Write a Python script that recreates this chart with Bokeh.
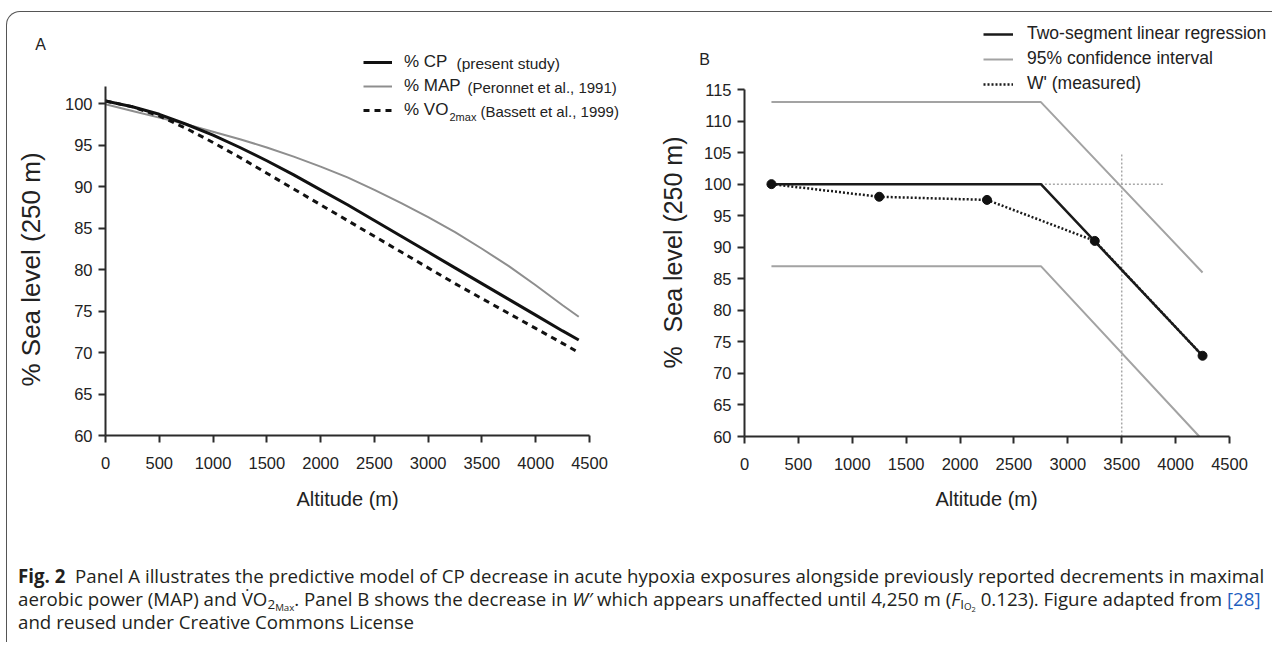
import math
from bokeh.plotting import figure
from bokeh.models import Range1d, Label, Div, Legend, LegendItem, FixedTicker
from bokeh.layouts import column, row
from bokeh.embed import file_html
from bokeh.resources import INLINE

# ---------------- data ----------------
# Panel A
altitude_a = [0, 250, 500, 750, 1000, 1250, 1500, 1750, 2000, 2250, 2500,
              2750, 3000, 3250, 3500, 3750, 4000, 4250, 4400]
cp_pct = [100.3, 99.6, 98.7, 97.5, 96.2, 94.7, 93.1, 91.4, 89.6, 87.8, 85.9,
          84.0, 82.1, 80.2, 78.3, 76.4, 74.5, 72.6, 71.5]
map_pct = [99.9, 99.1, 98.3, 97.5, 96.6, 95.7, 94.7, 93.6, 92.4, 91.1, 89.6,
           88.0, 86.3, 84.5, 82.5, 80.4, 78.1, 75.7, 74.3]
vo2_pct = [100.3, 99.6, 98.5, 97.0, 95.3, 93.5, 91.6, 89.7, 87.8, 85.9, 84.0,
           82.1, 80.2, 78.3, 76.5, 74.7, 72.9, 71.1, 70.0]

# Panel B
altitude_b = [250, 1250, 2250, 3250, 4250]
w_measured = [100.0, 98.0, 97.5, 91.0, 72.8]
reg_x = [250, 2750, 4250]
reg_y = [100.0, 100.0, 72.8]
ci_up_x = [250, 2750, 4250]
ci_up_y = [113.0, 113.0, 86.0]
ci_lo_x = [250, 2750, 4220]
ci_lo_y = [87.0, 87.0, 60.0]
ref_v_x = [3500, 3500]
ref_v_y = [60.0, 105.0]
ref_h_x = [2750, 3900]
ref_h_y = [100.0, 100.0]

x_ticks = [0, 500, 1000, 1500, 2000, 2500, 3000, 3500, 4000, 4500]
ya_ticks = [60, 65, 70, 75, 80, 85, 90, 95, 100]
yb_ticks = [60, 65, 70, 75, 80, 85, 90, 95, 100, 105, 110, 115]

FONT = "Liberation Sans"
AX = "#2b2b2b"
TXT = "#222222"
GREY_A = "#8e8e8e"
GREY_B = "#a3a3a3"
GREY_DOT = "#a8a8a8"

# ---------------- layout geometry (page pixels) ----------------
ORG_X, ORG_Y = 15, 20          # top-left of the figures (inside the box border)
H = 545
WA, WB = 626, 639
# panel A : x 0 -> 113, 4500 -> 597 ; y 100 -> 111, 60 -> 443
A_X0, A_X4500, A_Y100, A_Y60 = 113, 597, 111, 443
# panel B : x 0 -> 752, 4500 -> 1237 ; y 115 -> 97, 60 -> 444
B_X0, B_X4500, B_Y115, B_Y60 = 752, 1237, 97, 444


def ranges(left, width, x0px, x1px, x1val, ytop_px, ybot_px, ytop_val, ybot_val):
    kx = (x1px - x0px) / x1val
    ky = (ybot_px - ytop_px) / (ytop_val - ybot_val)
    xs = (left - x0px) / kx
    xe = (left + width - x0px) / kx
    yt = ybot_val + (ybot_px - ORG_Y) / ky
    yb = ybot_val - (ORG_Y + H - ybot_px) / ky
    return Range1d(xs, xe), Range1d(yb, yt)


def style_axes(p, ybounds):
    for ax in (p.xaxis[0], p.yaxis[0]):
        ax.axis_line_color = AX
        ax.axis_line_width = 2
        ax.major_tick_line_color = AX
        ax.major_tick_line_width = 2
        ax.major_tick_out = 7
        ax.major_tick_in = 0
        ax.minor_tick_line_color = None
        ax.major_label_text_font = FONT
        ax.major_label_text_font_size = "16.5px"
        ax.major_label_text_color = TXT
    p.xaxis[0].ticker = FixedTicker(ticks=x_ticks)
    p.xaxis[0].bounds = (0, 4500)
    p.xaxis[0].fixed_location = 60
    p.xaxis[0].major_label_standoff = 14
    p.yaxis[0].bounds = ybounds
    p.yaxis[0].fixed_location = 0
    p.yaxis[0].major_label_standoff = 6
    p.xgrid.visible = False
    p.ygrid.visible = False
    p.outline_line_color = None
    p.background_fill_color = None
    p.border_fill_color = None


def screen_label(p, left, page_x, page_y, text, size, **kw):
    kw.setdefault("text_baseline", "middle")
    p.add_layout(Label(x=page_x - left, y=ORG_Y + H - page_y,
                       x_units="screen", y_units="screen",
                       text=text, text_font=FONT, text_font_size=size,
                       text_color=TXT, **kw))


# ---------------- panel A ----------------
xrA, yrA = ranges(ORG_X, WA, A_X0, A_X4500, 4500, A_Y100, A_Y60, 100, 60)
pA = figure(width=WA, height=H, output_backend="svg", toolbar_location=None,
            x_range=xrA, y_range=yrA, min_border=0)
pA.yaxis[0].ticker = FixedTicker(ticks=ya_ticks)
style_axes(pA, (60, 102))

r_map = pA.line(altitude_a, map_pct, line_color=GREY_A, line_width=2)
r_vo2 = pA.line(altitude_a, vo2_pct, line_color="#111111", line_width=3,
                line_dash="6 5")
r_cp = pA.line(altitude_a, cp_pct, line_color="#111111", line_width=3)

# legend rows at page y 70, 94, 118 ; samples from page x 371
legA = Legend(items=[LegendItem(label="% CP", renderers=[r_cp]),
                     LegendItem(label="% MAP", renderers=[r_map]),
                     LegendItem(label="% VO", renderers=[r_vo2])],
              location=(371 - ORG_X, ORG_Y + H - 128), padding=0, margin=0,
              spacing=4, glyph_width=29, glyph_height=20, label_height=20,
              label_standoff=12, label_text_font=FONT,
              label_text_font_size="17px", label_text_color=TXT,
              border_line_alpha=0, background_fill_alpha=0)
pA.add_layout(legA, "center")

L = ORG_X
screen_label(pA, L, 464, 71, "(present study)", "15.5px")
screen_label(pA, L, 475, 95, "(Peronnet et al., 1991)", "15px")
screen_label(pA, L, 457, 124, "2max", "11px")
screen_label(pA, L, 488, 119, "(Bassett et al., 1999)", "15px")
screen_label(pA, L, 48, 52, "A", "16px", text_align="center")
screen_label(pA, L, 38, 277, "% Sea level (250 m)", "26px",
             text_align="center", angle=math.pi / 2)
screen_label(pA, L, 355, 506, "Altitude (m)", "20px", text_align="center")

# ---------------- panel B ----------------
LB = ORG_X + WA
xrB, yrB = ranges(LB, WB, B_X0, B_X4500, 4500, B_Y115, B_Y60, 115, 60)
pB = figure(width=WB, height=H, output_backend="svg", toolbar_location=None,
            x_range=xrB, y_range=yrB, min_border=0)
pB.yaxis[0].ticker = FixedTicker(ticks=yb_ticks)
style_axes(pB, (60, 115))

pB.line(ref_v_x, ref_v_y, line_color=GREY_DOT, line_width=1.5, line_dash="2 2")
pB.line(ref_h_x, ref_h_y, line_color=GREY_DOT, line_width=1.5, line_dash="2 2")
r_ci = pB.line(ci_up_x, ci_up_y, line_color=GREY_B, line_width=2)
pB.line(ci_lo_x, ci_lo_y, line_color=GREY_B, line_width=2)
r_w = pB.line(altitude_b, w_measured, line_color="#1a1a1a", line_width=2.5,
              line_dash="2 2")
r_reg = pB.line(reg_x, reg_y, line_color="#1a1a1a", line_width=2.5)
pB.scatter(altitude_b, w_measured, size=9, marker="circle",
           fill_color="#111111", line_color="#111111")

# legend rows at page y 44, 68, 92 ; samples from page x 991
legB = Legend(items=[LegendItem(label="Two-segment linear regression", renderers=[r_reg]),
                     LegendItem(label="95% confidence interval", renderers=[r_ci]),
                     LegendItem(label="W' (measured)", renderers=[r_w])],
              location=(991 - LB, ORG_Y + H - 102), padding=0, margin=0,
              spacing=4, glyph_width=30, glyph_height=20, label_height=20,
              label_standoff=14, label_text_font=FONT,
              label_text_font_size="17.5px", label_text_color=TXT,
              border_line_alpha=0, background_fill_alpha=0)
pB.add_layout(legB, "center")
screen_label(pB, LB, 712, 67, "B", "16px", text_align="center")
screen_label(pB, LB, 680, 260, "%\u00a0 Sea level (250 m)", "25px",
             text_align="center", angle=math.pi / 2)
screen_label(pB, LB, 994, 506, "Altitude (m)", "20px", text_align="center")

# ---------------- caption ----------------
def sub(text, size_em, drop_em):
    return ("<span style='font-size:%sem;position:relative;top:%sem;"
            "line-height:0'>%s</span>" % (size_em, drop_em, text))


caption_html = (
    "<div style=\"font-family:'Open Sans',sans-serif;font-size:18.7px;"
    "line-height:23px;color:#231f20;padding:2px 0 0 6px;white-space:nowrap\">"
    "<b>Fig.&nbsp;2</b>&nbsp; Panel A illustrates the predictive model of CP decrease in acute "
    "hypoxia exposures alongside previously reported decrements in maximal<br>"
    "aerobic power (MAP) and V&#775;O" + sub("2", 0.72, 0.22) + sub("Max", 0.52, 0.5) +
    ". Panel B shows the decrease in <i>W&prime;</i> which appears unaffected "
    "until 4,250 m (<i>F</i>" + sub("I", 0.72, 0.22) + sub("O", 0.52, 0.45) +
    sub("2", 0.4, 0.8) + " 0.123). Figure adapted from "
    "<span style='color:#1f5fbf'>[28]</span><br>"
    "and reused under Creative Commons License</div>"
)
cap = Div(text=caption_html, width=WA + WB, height=75)

layout = column(row(pA, pB), cap, width=WA + WB + 1,
                margin=(11, 0, 0, 6),
                styles={"border-top": "1px solid #555555",
                        "border-left": "1px solid #555555",
                        "border-top-left-radius": "14px"})

open("out.html", "w").write(file_html(layout, INLINE))
